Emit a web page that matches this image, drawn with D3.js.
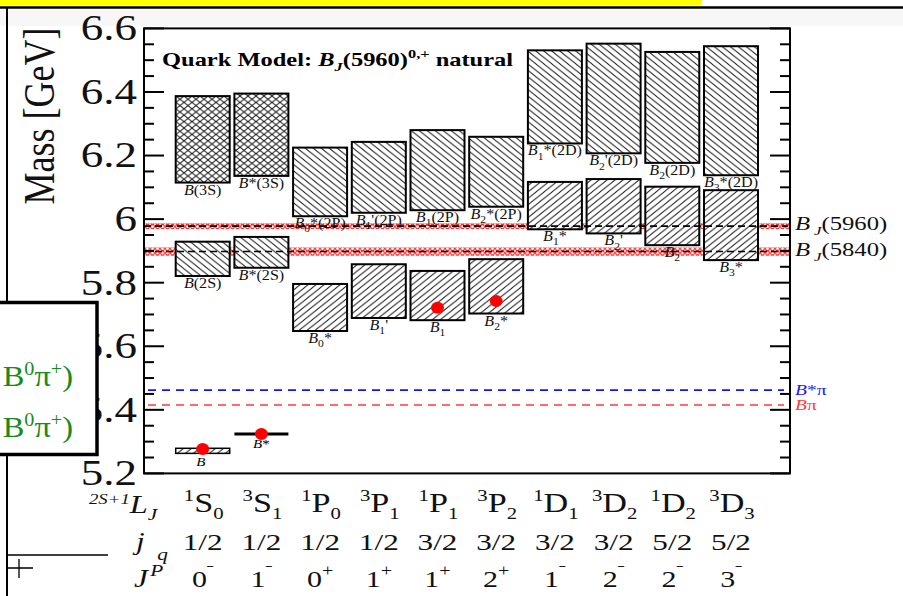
<!DOCTYPE html>
<html>
<head>
<meta charset="utf-8">
<script src="https://cdn.jsdelivr.net/npm/d3@7"></script>
<style>
  body { margin: 0; background: #fff; }
  text { font-family: "Liberation Serif", "DejaVu Serif", serif; }
</style>
</head>
<body>
<svg class="chart"></svg>
<script>
// quark model states, one column per spectroscopic term
var terms = ["1S0", "3S1", "1P0", "3P1", "1P1", "3P2", "1D1", "3D2", "1D2", "3D3"];
var lowerNames = ["B(2S)", "B*(2S)", "B_0*", "B_1'", "B_1", "B_2*", "B_1*", "B_2'", "B_2", "B_3*"];
var lowerMin = [5.821, 5.847, 5.648, 5.689, 5.682, 5.703, 5.968, 5.955, 5.918, 5.871];
var lowerMax = [5.929, 5.944, 5.796, 5.858, 5.837, 5.874, 6.117, 6.126, 6.102, 6.091];
var upperNames = ["B(3S)", "B*(3S)", "B_0*(2P)", "B_1'(2P)", "B_1(2P)", "B_2*(2P)", "B_1*(2D)", "B_2'(2D)", "B_2(2D)", "B_3*(2D)"];
var upperMin = [6.115, 6.136, 6.009, 6.020, 6.028, 6.039, 6.238, 6.207, 6.177, 6.138];
var upperMax = [6.387, 6.395, 6.225, 6.243, 6.280, 6.259, 6.531, 6.552, 6.526, 6.544];
// ground states
var groundB = [5.263, 5.279];
var groundBstar = 5.324;
// measured states (red dots)
var measuredTerm = ["1S0", "3S1", "1P1", "3P2"];
var measuredMass = [5.277, 5.324, 5.721, 5.742];
// thresholds and new states
var thresholdNames = ["B*π", "Bπ"];
var thresholdMass = [5.462, 5.415];
var bjNames = ["5960", "5840"];
var bjMass = [5.978, 5.898];
var bjWidth = [0.009, 0.013];
// quantum number rows
var rowL = [["1", "S", "0"], ["3", "S", "1"], ["1", "P", "0"], ["3", "P", "1"], ["1", "P", "1"],
            ["3", "P", "2"], ["1", "D", "1"], ["3", "D", "2"], ["1", "D", "2"], ["3", "D", "3"]];
var rowJq = ["1/2", "1/2", "1/2", "1/2", "3/2", "3/2", "3/2", "3/2", "5/2", "5/2"];
var rowJP = [["0", "-"], ["1", "-"], ["0", "+"], ["1", "+"], ["1", "+"],
             ["2", "+"], ["1", "-"], ["2", "-"], ["2", "-"], ["3", "-"]];
var yTicks = [5.2, 5.4, 5.6, 5.8, 6.0, 6.2, 6.4, 6.6];

var W = 903, H = 596;
var frame = { left: 144, right: 790, top: 28.4, bottom: 473.4 };
var SX = 1.28; // the slide stretched the picture sideways

var x = d3.scalePoint().domain(terms).range([202.7, 731]);
var y = d3.scaleLinear().domain([5.2, 6.6]).range([frame.bottom, frame.top]);
var boxW = 54;

var svg = d3.select(".chart").attr("width", W).attr("height", H);
var defs = svg.append("defs");

function hatch(id, dirs) {
    var p = defs.append("pattern").attr("id", id)
        .attr("patternUnits", "userSpaceOnUse")
        .attr("width", 8).attr("height", 6.4);
    p.append("rect").attr("width", 8).attr("height", 6.4).attr("fill", "#fff");
    dirs.forEach(function (d) {
        var path = d === "/" ? "M-2,8 L10,-1.6 M-2,1.6 L2,-1.6 M6,8 L10,4.8"
                             : "M-2,-1.6 L10,8 M-2,4.8 L2,8 M6,-1.6 L10,1.6";
        p.append("path").attr("d", path).attr("stroke", "#222").attr("stroke-width", 1);
    });
}
hatch("hatchF", ["/"]);
hatch("hatchB", ["\\"]);
hatch("hatchX", ["/", "\\"]);

var chain = defs.append("pattern").attr("id", "chain")
    .attr("patternUnits", "userSpaceOnUse").attr("width", 5).attr("height", 4.4);
chain.append("circle").attr("cx", 2.5).attr("cy", 2.2).attr("r", 1.9)
    .attr("fill", "none").attr("stroke", "#ff2a2a").attr("stroke-width", 1.1);

function stext(parent, px, py, sx) {
    return parent.append("text")
        .attr("transform", "translate(" + px + "," + py + ") scale(" + (sx || SX) + ",1)");
}

// "B_1'(2P)" -> italic B, subscript 1, rest upright
function stateLabel(t, s, size) {
    var m = s.match(/^B(?:_(\d))?(.*)$/);
    t.append("tspan").attr("font-style", "italic").text("B");
    if (m[1]) {
        t.append("tspan").attr("font-size", size * 0.72).attr("dy", size * 0.3).text(m[1]);
        t.append("tspan").attr("dy", -size * 0.3).text(m[2]);
    } else {
        t.append("tspan").text(m[2]);
    }
}

// ---- slide furniture around the picture ----
svg.append("rect").attr("x", 0).attr("y", 0).attr("width", 702).attr("height", 5).attr("fill", "#ffff00");
svg.append("rect").attr("x", 0).attr("y", 9).attr("width", W).attr("height", 17).attr("fill", "#f7f7f7");
svg.append("line").attr("x1", 0).attr("x2", W).attr("y1", 7.5).attr("y2", 7.5)
    .attr("stroke", "#000").attr("stroke-width", 2.5);

// ---- plot ----
var plot = svg.append("g");

// red bands of the B_J states
bjMass.forEach(function (m, i) {
    plot.append("rect")
        .attr("x", frame.left).attr("width", frame.right - frame.left)
        .attr("y", y(m + bjWidth[i])).attr("height", y(m - bjWidth[i]) - y(m + bjWidth[i]))
        .attr("fill", "url(#chain)");
});

function drawBoxes(mins, maxs, names, fills, labelGap) {
    terms.forEach(function (t, i) {
        plot.append("rect")
            .attr("x", x(t) - boxW / 2).attr("width", boxW)
            .attr("y", y(maxs[i])).attr("height", y(mins[i]) - y(maxs[i]))
            .attr("fill", "url(#" + fills[i] + ")")
            .attr("stroke", "#000").attr("stroke-width", 2);
    });
    terms.forEach(function (t, i) {
        var lab = stext(plot, x(t), y(mins[i]) + labelGap, 1.15)
            .attr("text-anchor", "middle").attr("font-size", 14).attr("fill", "#111");
        stateLabel(lab, names[i], 14);
    });
}

drawBoxes(upperMin, upperMax, upperNames,
    ["hatchX", "hatchX", "hatchB", "hatchB", "hatchB", "hatchB", "hatchB", "hatchB", "hatchB", "hatchB"], 12);
drawBoxes(lowerMin, lowerMax, lowerNames,
    ["hatchB", "hatchB", "hatchF", "hatchF", "hatchF", "hatchF", "hatchF", "hatchF", "hatchF", "hatchF"], 12);

// ground states
plot.append("rect")
    .attr("x", x("1S0") - boxW / 2).attr("width", boxW)
    .attr("y", y(groundB[1])).attr("height", y(groundB[0]) - y(groundB[1]))
    .attr("fill", "url(#hatchF)").attr("stroke", "#000").attr("stroke-width", 1.5);
plot.append("line")
    .attr("x1", x("3S1") - boxW / 2).attr("x2", x("3S1") + boxW / 2)
    .attr("y1", y(groundBstar)).attr("y2", y(groundBstar))
    .attr("stroke", "#000").attr("stroke-width", 3);
stateLabel(stext(plot, x("1S0") - 2, y(groundB[0]) + 13, 1.15)
    .attr("text-anchor", "middle").attr("font-size", 13), "B", 13);
stateLabel(stext(plot, x("3S1"), y(groundBstar) + 14, 1.15)
    .attr("text-anchor", "middle").attr("font-size", 13), "B*", 13);

// B_J dashed lines
bjMass.forEach(function (m) {
    plot.append("line")
        .attr("x1", frame.left).attr("x2", frame.right - 2)
        .attr("y1", y(m)).attr("y2", y(m))
        .attr("stroke", "#000").attr("stroke-width", 1.6)
        .attr("stroke-dasharray", "7,4");
});

// thresholds
var thrColor = ["#1414ff", "#ff3a3a"];
thresholdMass.forEach(function (m, i) {
    plot.append("line")
        .attr("x1", frame.left + 4).attr("x2", frame.right - 6)
        .attr("y1", y(m)).attr("y2", y(m))
        .attr("stroke", thrColor[i]).attr("stroke-width", 1.6)
        .attr("stroke-dasharray", "8,6");
});

// measured masses
measuredTerm.forEach(function (t, i) {
    plot.append("ellipse")
        .attr("cx", x(t)).attr("cy", y(measuredMass[i]))
        .attr("rx", 6.5).attr("ry", 6).attr("fill", "#ff0000");
});

// frame and ticks (left and right, pointing inward)
plot.append("rect")
    .attr("x", frame.left).attr("y", frame.top)
    .attr("width", frame.right - frame.left).attr("height", frame.bottom - frame.top)
    .attr("fill", "none").attr("stroke", "#000").attr("stroke-width", 2);

var minor = d3.range(0, 29).map(function (k) { return 5.2 + k * 0.05; });
minor.forEach(function (m, k) {
    var len = k % 4 === 0 ? 20 : 10;
    plot.append("line").attr("x1", frame.left).attr("x2", frame.left + len)
        .attr("y1", y(m)).attr("y2", y(m)).attr("stroke", "#000").attr("stroke-width", 2);
    plot.append("line").attr("x1", frame.right).attr("x2", frame.right - len)
        .attr("y1", y(m)).attr("y2", y(m)).attr("stroke", "#000").attr("stroke-width", 2);
});

yTicks.forEach(function (v) {
    stext(svg, 137, y(v), 1.25)
        .attr("text-anchor", "end").attr("dominant-baseline", "central")
        .attr("font-size", 36).attr("fill", "#111")
        .text(String(+v.toFixed(1)));
});

svg.append("text")
    .attr("transform", "translate(54,116) scale(1.25,1) rotate(-90)")
    .attr("text-anchor", "middle").attr("font-size", 36).attr("fill", "#111")
    .text("Mass [GeV]");

// title
var title = stext(svg, 162, 66, 1.36).attr("font-size", 18).attr("font-weight", "bold");
title.append("tspan").text("Quark Model: ");
title.append("tspan").attr("font-style", "italic").text("B");
title.append("tspan").attr("font-style", "italic").attr("font-size", 12).attr("dy", 5).text("J");
title.append("tspan").attr("dy", -5).text("(5960)");
title.append("tspan").attr("font-size", 12).attr("dy", -8).text("0,+");
title.append("tspan").attr("dy", 8).text(" natural");

// right side labels
bjNames.forEach(function (n, i) {
    var t = stext(svg, 795, y(bjMass[i]) + 4, 1.3).attr("font-size", 19).attr("fill", "#111");
    t.append("tspan").attr("font-style", "italic").text("B");
    t.append("tspan").attr("font-style", "italic").attr("font-size", 13).attr("dx", 3).attr("dy", 5).text("J");
    t.append("tspan").attr("dy", -5).text("(" + n + ")");
});
thresholdNames.forEach(function (n, i) {
    var t = stext(svg, 795, y(thresholdMass[i]) + 5, 1.3).attr("font-size", 15).attr("fill", thrColor[i]);
    t.append("tspan").attr("font-style", "italic").text("B");
    t.append("tspan").text(n.slice(1));
});

// quantum number table under the plot
var h1 = stext(svg, 89, 513, 1.25).attr("fill", "#111");
h1.append("tspan").attr("font-size", 15).attr("font-style", "italic").attr("dy", -9).text("2S+1");
h1.append("tspan").attr("font-size", 26).attr("font-style", "italic").attr("dy", 9).text("L");
h1.append("tspan").attr("font-size", 17).attr("font-style", "italic").attr("dy", 7).text("J");

var h2 = stext(svg, 136, 550, 1.25).attr("fill", "#111").attr("font-style", "italic");
h2.append("tspan").attr("font-size", 25).text("j");
h2.append("tspan").attr("font-size", 17).attr("dx", 10).attr("dy", 10).text("q");

var h3 = stext(svg, 134, 587, 1.25).attr("fill", "#111").attr("font-style", "italic");
h3.append("tspan").attr("font-size", 25).text("J");
h3.append("tspan").attr("font-size", 17).attr("dx", 2).attr("dy", -11).text("P");

terms.forEach(function (t, i) {
    var a = stext(svg, x(t) + 1, 512, 1.22).attr("text-anchor", "middle").attr("fill", "#111");
    a.append("tspan").attr("font-size", 17).attr("dy", -11).text(rowL[i][0]);
    a.append("tspan").attr("font-size", 28).attr("dy", 11).text(rowL[i][1]);
    a.append("tspan").attr("font-size", 17).attr("dy", 7).text(rowL[i][2]);

    stext(svg, x(t), 550, 1.3).attr("text-anchor", "middle").attr("fill", "#111")
        .attr("font-size", 24).text(rowJq[i]);

    var c = stext(svg, x(t), 587, 1.25).attr("text-anchor", "middle").attr("fill", "#111");
    c.append("tspan").attr("font-size", 24).text(rowJP[i][0]);
    c.append("tspan").attr("font-size", 16).attr("dy", -11).text(rowJP[i][1] === "-" ? "\u02c9" : "+");
});

// overlapping box of the slide on the left
svg.append("line").attr("x1", 7).attr("x2", 7).attr("y1", 8).attr("y2", 302)
    .attr("stroke", "#000").attr("stroke-width", 2);
svg.append("line").attr("x1", 7).attr("x2", 7).attr("y1", 455).attr("y2", H)
    .attr("stroke", "#000").attr("stroke-width", 2);
svg.append("line").attr("x1", 7).attr("x2", 108).attr("y1", 555).attr("y2", 555)
    .attr("stroke", "#000").attr("stroke-width", 1.5);
svg.append("path").attr("d", "M8,568 L33,568 M19,559 L19,578")
    .attr("stroke", "#000").attr("stroke-width", 1.3);
svg.append("rect").attr("x", -10).attr("y", 302.5).attr("width", 107).attr("height", 152)
    .attr("fill", "#fff").attr("stroke", "#000").attr("stroke-width", 3.5);
[386, 437].forEach(function (by) {
    var g = stext(svg, 73, by, 1.12).attr("text-anchor", "end").attr("font-size", 29).attr("fill", "#1a8a1a");
    g.append("tspan").text("B");
    g.append("tspan").attr("font-size", 18).attr("dy", -11).text("0");
    g.append("tspan").attr("dy", 11).text("\u03c0");
    g.append("tspan").attr("font-size", 18).attr("dy", -11).text("+");
    g.append("tspan").attr("dy", 11).text(")");
});
</script>
</body>
</html>
